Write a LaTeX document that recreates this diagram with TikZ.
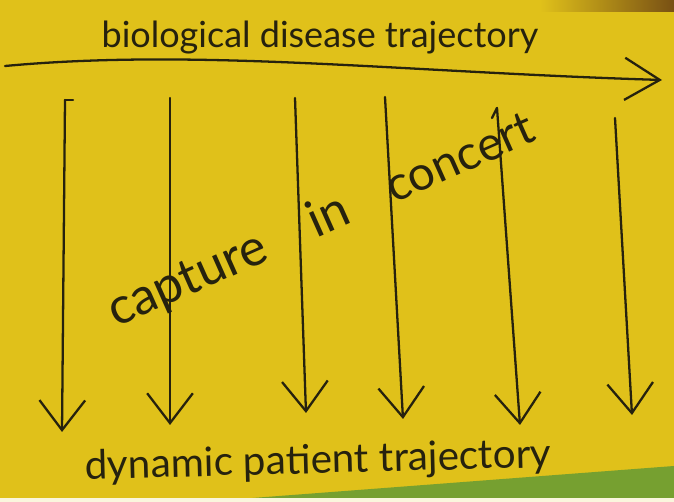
\documentclass[tikz,border=0pt]{standalone}
\usepackage{fontspec}
\setmainfont{Lato}
\usetikzlibrary{arrows.meta}
\definecolor{paper}{RGB}{224,193,26}
\definecolor{ink}{RGB}{38,34,14}
\definecolor{desk}{RGB}{118,160,48}
\definecolor{shade}{RGB}{120,80,20}
\begin{document}
\begin{tikzpicture}[x=0.02cm, y=-0.02cm,
  every node/.style={text=ink, inner sep=0pt},
  pen/.style={draw=ink, line width=1.3pt, line cap=round, line join=round},
  down/.style={pen, -{Straight Barb[length=17pt, width=26pt, line width=1.3pt]}},
  lbl/.style={font=\fontsize{20}{24}\selectfont},
  word/.style={font=\fontsize{29}{36}\selectfont, rotate=24, anchor=base west}]
  % paper, desk and shadow
  \useasboundingbox (0,0) rectangle (674,502);
  \fill[paper] (0,0) rectangle (674,502);
  \fill[desk] (200,502) -- (674,466) -- (674,502) -- cycle;
  \fill[white!85!paper] (0,498) rectangle (674,502);
  \shade[left color=paper, right color=shade] (540,0) rectangle (674,12);
  % biological trajectory
  \node[lbl, font=\fontsize{20.5}{24}\selectfont] (bio) at (320,38) {biological disease trajectory};
  \coordinate (hs) at (5,66);
  \coordinate (he) at (662,80);
  \draw[pen, -{Straight Barb[length=20pt, width=24pt, line width=1.3pt]}]
    (hs) .. controls (200,48) and (400,72) .. (he);
  % downward arrows
  \foreach \i/\xa/\ya/\xb/\yb in {1/65/100/62/432, 2/170/98/170/425,
      3/295/98/306/413, 4/385/97/403/419, 5/497/108/520/425, 6/615/118/632/415}{
    \coordinate (t\i) at (\xa,\ya);
    \coordinate (b\i) at (\xb,\yb);
    \draw[down] (t\i) -- (b\i);
  }
  \draw[pen] (t1) -- ++(8,0);
  \draw[pen] (t5) -- ++(-5,10);
  % capture in concert
  \node[word] (cap) at (116,328)
    {capture\hspace{1.0cm}in\hspace{0.9cm}{\fontsize{27}{32}\selectfont concert}};
  % patient trajectory
  \node[lbl, font=\fontsize{23}{27}\selectfont, rotate=1.5] (dyn) at (318,462) {dynamic patient trajectory};
\end{tikzpicture}
\end{document}
